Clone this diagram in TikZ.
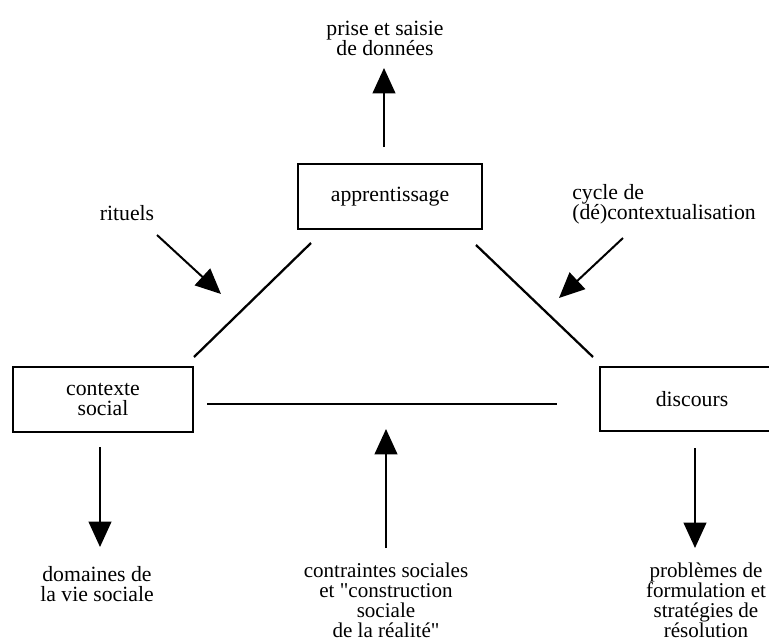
\documentclass[tikz,border=0pt]{standalone}
\usepackage{fontspec}
\setmainfont{Liberation Serif}[Ligatures=TeXOff]
\usetikzlibrary{arrows.meta}
\tikzset{
  box/.style={draw, line width=1.1pt, inner sep=0pt, align=center,
    font=\fontsize{16.3}{15}\selectfont},
  lbl/.style={align=center, inner sep=0pt, font=\fontsize{16.3}{15}\selectfont},
  lowlbl/.style={lbl, font=\fontsize{15.8}{15}\selectfont},
  link/.style={line width=1.7pt},
  push/.style={line width=1.5pt, -{Triangle[width=17pt,length=19pt]}},
}
\begin{document}
\begin{tikzpicture}[x=0.75pt,y=-0.75pt]
\useasboundingbox (0,0) rectangle (769,643);
\clip (0,0) rectangle (769,643);
% boxes
\node[box, minimum width=138pt, minimum height=48.75pt] (app) at (390,196.5) {apprentissage};
\node[box, minimum width=135pt, minimum height=48.75pt] (ctx) at (103,399.5) {contexte\\social};
\node[box, minimum width=138pt, minimum height=48pt] (dis) at (692,399) {discours};
% labels
\node[lbl] (prise) at (385,38) {prise et saisie\\de données};
\node[lbl] (rit) at (127,213) {rituels};
\node[lbl, align=left, anchor=west] (cyc) at (572,204) {cycle de\\(dé)contextualisation};
\node[lbl] (dom) at (97,584) {domaines de\\la vie sociale};
\node[lowlbl] (con) at (386,600) {contraintes sociales\\et "construction\\sociale\\de la réalité"};
\node[lowlbl] (pro) at (706,600) {problèmes de\\formulation et\\stratégies de\\résolution};
% connector end points
\coordinate (ldA) at (194,357);
\coordinate (ldB) at (311,243);
\coordinate (rdA) at (476,245);
\coordinate (rdB) at (593,357);
\coordinate (hA) at (207,404);
\coordinate (hB) at (557,404);
\coordinate (topS) at (384,147);
\coordinate (topT) at (384,68);
\coordinate (ritS) at (157,235);
\coordinate (ritT) at (221,294);
\coordinate (cycS) at (623,238);
\coordinate (cycT) at (559,298);
\coordinate (domS) at (100,447);
\coordinate (domT) at (100,547);
\coordinate (conS) at (386,548);
\coordinate (conT) at (386,429);
\coordinate (proS) at (695,448);
\coordinate (proT) at (695,548);
% triangle sides
\draw[link] (ldA) -- (ldB);
\draw[link] (rdA) -- (rdB);
\draw[link] (hA) -- (hB);
% arrows
\draw[push] (topS) -- (topT);
\draw[push] (ritS) -- (ritT);
\draw[push] (cycS) -- (cycT);
\draw[push] (domS) -- (domT);
\draw[push] (conS) -- (conT);
\draw[push] (proS) -- (proT);
\end{tikzpicture}
\end{document}
